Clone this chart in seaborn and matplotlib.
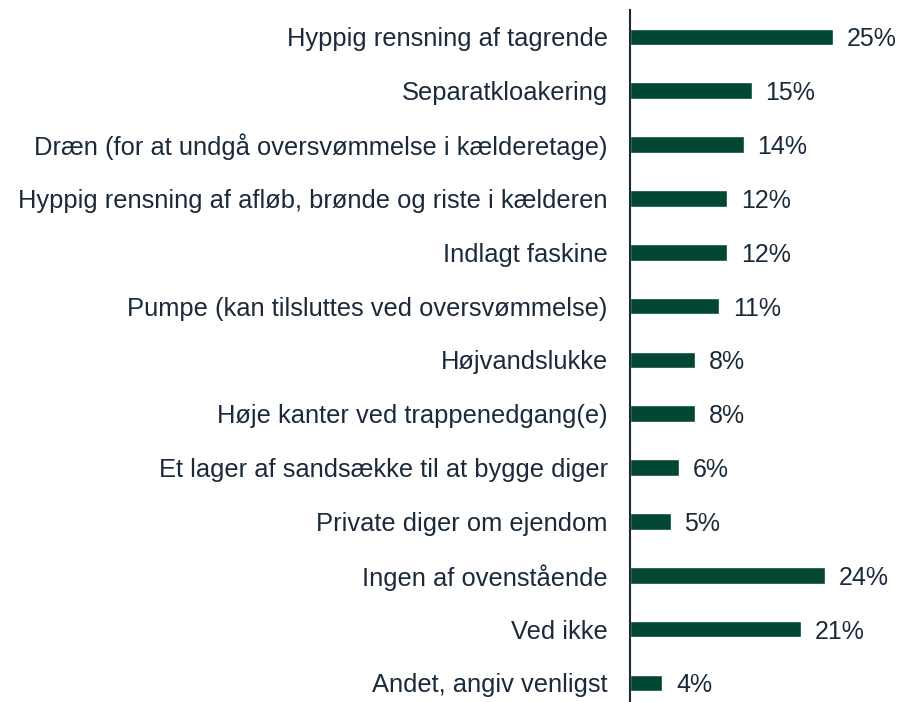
import matplotlib.pyplot as plt
import seaborn as sns
import pandas as pd

# Data
categories = [
    "Hyppig rensning af tagrende",
    "Separatkloakering",
    "Dræn (for at undgå oversvømmelse i kælderetage)",
    "Hyppig rensning af afløb, brønde og riste i kælderen",
    "Indlagt faskine",
    "Pumpe (kan tilsluttes ved oversvømmelse)",
    "Højvandslukke",
    "Høje kanter ved trappenedgang(e)",
    "Et lager af sandsække til at bygge diger",
    "Private diger om ejendom",
    "Ingen af ovenstående",
    "Ved ikke",
    "Andet, angiv venligst",
]
values = [25, 15, 14, 12, 12, 11, 8, 8, 6, 5, 24, 21, 4]

bar_color = "#024634"
text_color = "#1B2A3A"

df = pd.DataFrame({"kategori": categories, "andel": values})

sns.set_theme(style="white")
plt.rcParams["font.family"] = ["Liberation Sans", "DejaVu Sans"]

fig = plt.figure(figsize=(9.02, 7.02), dpi=100)
ax = fig.add_axes([630 / 902, 0.0, 272 / 902, 692 / 702])

sns.barplot(data=df, x="andel", y="kategori", orient="h", color=bar_color,
            width=0.31, saturation=1, ax=ax)

ax.set_xlim(0, 33.5)
ax.set_ylim(12.355, -0.5)
ax.set_xlabel("")
ax.set_ylabel("")
ax.set_xticks([])
ax.tick_params(axis="y", length=0, pad=16, labelsize=18.4, labelcolor=text_color)

for side in ["top", "right", "bottom"]:
    ax.spines[side].set_visible(False)
ax.spines["left"].set_color(text_color)
ax.spines["left"].set_linewidth(1.5)

for i, v in enumerate(values):
    ax.text(v + 1.7, i, f"{v}%", va="center_baseline", ha="left",
            fontsize=18, color=text_color)

fig.savefig("out.png", dpi=100)
